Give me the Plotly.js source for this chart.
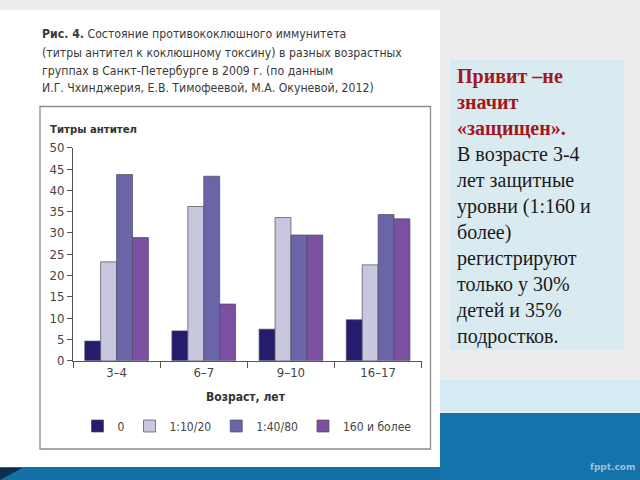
<!DOCTYPE html>
<html>
<head>
<meta charset="utf-8">
<script src="https://cdn.plot.ly/plotly-3.0.1.min.js"></script>
<style>html,body{margin:0;padding:0;background:#ececec;}#chart{width:640px;height:480px;}</style>
</head>
<body>
<div id="chart"></div>
<script>
// ---- data ----
const categories = ["3–4", "6–7", "9–10", "16–17"];
const seriesNames = ["0", "1:10/20", "1:40/80", "160 и более"];
const titer0 = [4.6, 7.0, 7.4, 9.6];
const titer10_20 = [23.2, 36.2, 33.6, 22.5];
const titer40_80 = [43.7, 43.3, 29.5, 34.3];
const titer160 = [28.9, 13.3, 29.5, 33.3];
const yTickValues = [0, 5, 10, 15, 20, 25, 30, 35, 40, 45, 50];

const captionLines = [
  "<b>Рис. 4.</b> Состояние противококлюшного иммунитета",
  "(титры антител к коклюшному токсину) в разных возрастных",
  "группах в Санкт-Петербурге в 2009 г. (по данным",
  "И.Г. Чхинджерия, Е.В. Тимофеевой, М.А. Окуневой, 2012)"
];
const noteHead = ["Привит –не", "значит", "«защищен»."];
const noteBody = ["В возрасте 3-4", "лет защитные", "уровни (1:160 и", "более)", "регистрируют", "только у 30%", "детей и 35%", "подростков."];

// ---- styling ----
const W = 640, H = 480;
const px = x => x / W;
const py = y => 1 - y / H;
const narrow = "Liberation Sans Narrow, DejaVu Sans Condensed, Arial Narrow, sans-serif";
const serif = "Liberation Serif, Times New Roman, serif";
const colors = ["#241c6c", "#c9c6e0", "#6a65a8", "#7b4fa2"];
const seriesValues = [titer0, titer10_20, titer40_80, titer160];

const traces = seriesValues.map((vals, i) => ({
  type: "bar",
  name: seriesNames[i],
  x: categories,
  y: vals,
  marker: { color: colors[i], line: { color: "#4a4a5a", width: 0.7 } },
  hoverinfo: "x+y+name"
}));

const shapes = [
  { type: "rect", xref: "paper", yref: "paper", x0: 0, x1: 1, y0: 0, y1: py(466), fillcolor: "#1270a6", line: { width: 0 }, layer: "below" },
  { type: "rect", xref: "paper", yref: "paper", x0: px(440), x1: 1, y0: 0, y1: py(413), fillcolor: "#1573ab", line: { width: 0 }, layer: "below" },
  { type: "rect", xref: "paper", yref: "paper", x0: px(440), x1: 1, y0: py(411), y1: py(380), fillcolor: "#d4eaf4", line: { width: 0 }, layer: "below" },
  { type: "path", xref: "paper", yref: "paper", path: `M 0 ${py(468)} L ${px(22)} ${py(468)} L 0 ${py(480)} Z`, fillcolor: "#0b2e4a", line: { width: 0 }, layer: "below" },
  { type: "rect", xref: "paper", yref: "paper", x0: 0, x1: px(440), y0: py(467), y1: py(10), fillcolor: "#ffffff", line: { width: 0 }, layer: "below" },
  { type: "rect", xref: "paper", yref: "paper", x0: px(40), x1: px(430.5), y0: py(449), y1: py(106.5), fillcolor: "rgba(0,0,0,0)", line: { color: "#8c8c8c", width: 1.3 }, layer: "below" },
  { type: "rect", xref: "paper", yref: "paper", x0: px(450), x1: px(624), y0: py(350), y1: py(60), fillcolor: "#d9eaf1", line: { width: 0 }, layer: "below" }
];

const captionY = [34, 52.5, 71, 88.5];
const annotations = captionLines.map((t, i) => ({
  xref: "paper", yref: "paper", x: px(40), y: py(captionY[i]), xanchor: "left", yanchor: "middle", align: "left", showarrow: false,
  text: t, font: { family: narrow, size: 12.2, color: "#3a3a3a" }
}));
annotations.push(
  { xref: "paper", yref: "paper", x: px(48), y: py(129), xanchor: "left", yanchor: "middle", showarrow: false,
    text: "<b>Титры антител</b>", font: { family: narrow, size: 11.3, color: "#333333" } },
  { xref: "paper", yref: "paper", x: px(246), y: py(397), xanchor: "center", yanchor: "middle", showarrow: false,
    text: "<b>Возраст, лет</b>", font: { family: narrow, size: 12, color: "#333333" } },
  { xref: "paper", yref: "paper", x: px(455), y: py(206.5), xanchor: "left", yanchor: "middle", align: "left", showarrow: false,
    text: "<b><span style='color:#a3171c'>" + noteHead.join("<br>") + "</span></b><br>" + noteBody.join("<br>"),
    font: { family: serif, size: 20, color: "#1a1a1a" } },
  { xref: "paper", yref: "paper", x: px(637), y: py(467), xanchor: "right", yanchor: "middle", showarrow: false,
    text: "<b>fppt.com</b>", font: { family: "DejaVu Sans, sans-serif", size: 9, color: "#9fc1d8" } }
);

const layout = {
  width: W, height: H, autosize: false,
  margin: { l: 0, r: 0, t: 0, b: 0, pad: 0 },
  paper_bgcolor: "#ececec",
  plot_bgcolor: "rgba(0,0,0,0)",
  barmode: "group",
  bargap: 0.27,
  bargroupgap: 0,
  showlegend: true,
  legend: {
    orientation: "h", x: px(247), y: py(426), xanchor: "center", yanchor: "middle",
    font: { family: narrow, size: 12, color: "#444444" }, bgcolor: "rgba(0,0,0,0)",
    itemwidth: 30, itemclick: false, itemdoubleclick: false
  },
  xaxis: {
    domain: [px(73), px(421.7)],
    type: "category",
    showline: true, linecolor: "#555555", linewidth: 1,
    ticks: "outside", tickson: "boundaries", ticklen: 6, tickcolor: "#555555",
    tickfont: { family: narrow, size: 13, color: "#444444" },
    showgrid: false, zeroline: false, fixedrange: true
  },
  yaxis: {
    domain: [py(360.7), py(147.7)],
    range: [0, 50],
    tickmode: "array", tickvals: yTickValues, ticktext: yTickValues.map(String),
    showline: true, linecolor: "#555555", linewidth: 1,
    ticks: "outside", ticklen: 5, tickcolor: "#555555",
    tickfont: { family: narrow, size: 13, color: "#444444" },
    showgrid: false, zeroline: false, fixedrange: true
  },
  shapes: shapes,
  annotations: annotations
};

Plotly.newPlot("chart", traces, layout, { displayModeBar: false, staticPlot: true });
</script>
</body>
</html>
